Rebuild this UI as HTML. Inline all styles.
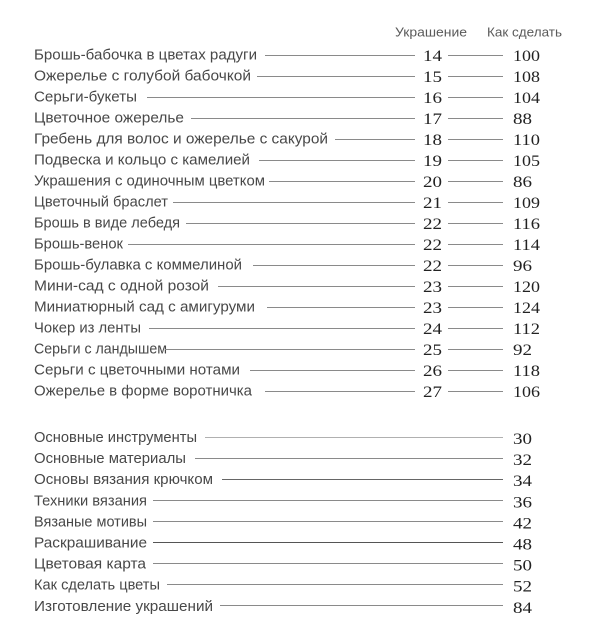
<!DOCTYPE html>
<html><head><meta charset="utf-8"><style>
html,body{margin:0;padding:0;background:#fff;}
svg{display:block;}
.l{font-family:"Liberation Sans","Noto Sans CJK SC",sans-serif;font-size:15px;fill:#484848;}
.h{font-family:"Liberation Sans","Noto Sans CJK SC",sans-serif;font-size:13px;fill:#5a5a5a;}
.n{font-family:"Liberation Serif","Noto Serif CJK SC",serif;font-size:16px;fill:#222;}
line{stroke:#8a8a8a;stroke-width:1;}
</style></head><body>
<svg width="606" height="632" viewBox="0 0 606 632" xmlns="http://www.w3.org/2000/svg">
<text class="h" x="395" y="36.5" textLength="72" lengthAdjust="spacingAndGlyphs">Украшение</text>
<text class="h" x="487" y="36.5" textLength="75" lengthAdjust="spacingAndGlyphs">Как сделать</text>

<!-- section 1 -->
<g>
<text class="l" x="34" y="59.5" textLength="223" lengthAdjust="spacingAndGlyphs">Брошь-бабочка в цветах радуги</text>
<line x1="265" y1="55.5" x2="415" y2="55.5"/><text class="n" x="423" y="61" textLength="19" lengthAdjust="spacingAndGlyphs">14</text>
<line x1="448" y1="55.5" x2="503" y2="55.5"/><text class="n" x="513" y="61" textLength="27" lengthAdjust="spacingAndGlyphs">100</text>

<text class="l" x="34" y="80.5" textLength="217" lengthAdjust="spacingAndGlyphs">Ожерелье с голубой бабочкой</text>
<line x1="257" y1="76.5" x2="415" y2="76.5"/><text class="n" x="423" y="82" textLength="19" lengthAdjust="spacingAndGlyphs">15</text>
<line x1="448" y1="76.5" x2="503" y2="76.5"/><text class="n" x="513" y="82" textLength="27" lengthAdjust="spacingAndGlyphs">108</text>

<text class="l" x="34" y="101.5" textLength="103" lengthAdjust="spacingAndGlyphs">Серьги-букеты</text>
<line x1="147" y1="97.5" x2="415" y2="97.5"/><text class="n" x="423" y="103" textLength="19" lengthAdjust="spacingAndGlyphs">16</text>
<line x1="448" y1="97.5" x2="503" y2="97.5"/><text class="n" x="513" y="103" textLength="27" lengthAdjust="spacingAndGlyphs">104</text>

<text class="l" x="34" y="122.5" textLength="150" lengthAdjust="spacingAndGlyphs">Цветочное ожерелье</text>
<line x1="191" y1="118.5" x2="415" y2="118.5"/><text class="n" x="423" y="124" textLength="19" lengthAdjust="spacingAndGlyphs">17</text>
<line x1="448" y1="118.5" x2="503" y2="118.5"/><text class="n" x="513" y="124" textLength="19" lengthAdjust="spacingAndGlyphs">88</text>

<text class="l" x="34" y="143.5" textLength="294" lengthAdjust="spacingAndGlyphs">Гребень для волос и ожерелье с сакурой</text>
<line x1="335" y1="139.5" x2="415" y2="139.5"/><text class="n" x="423" y="145" textLength="19" lengthAdjust="spacingAndGlyphs">18</text>
<line x1="448" y1="139.5" x2="503" y2="139.5"/><text class="n" x="513" y="145" textLength="27" lengthAdjust="spacingAndGlyphs">110</text>

<text class="l" x="34" y="164.5" textLength="216" lengthAdjust="spacingAndGlyphs">Подвеска и кольцо с камелией</text>
<line x1="259" y1="160.5" x2="415" y2="160.5"/><text class="n" x="423" y="166" textLength="19" lengthAdjust="spacingAndGlyphs">19</text>
<line x1="448" y1="160.5" x2="503" y2="160.5"/><text class="n" x="513" y="166" textLength="27" lengthAdjust="spacingAndGlyphs">105</text>

<text class="l" x="34" y="185.5" textLength="231" lengthAdjust="spacingAndGlyphs">Украшения с одиночным цветком</text>
<line x1="269" y1="181.5" x2="415" y2="181.5"/><text class="n" x="423" y="187" textLength="19" lengthAdjust="spacingAndGlyphs">20</text>
<line x1="448" y1="181.5" x2="503" y2="181.5"/><text class="n" x="513" y="187" textLength="19" lengthAdjust="spacingAndGlyphs">86</text>

<text class="l" x="34" y="206.5" textLength="134" lengthAdjust="spacingAndGlyphs">Цветочный браслет</text>
<line x1="173" y1="202.5" x2="415" y2="202.5"/><text class="n" x="423" y="208" textLength="19" lengthAdjust="spacingAndGlyphs">21</text>
<line x1="448" y1="202.5" x2="503" y2="202.5"/><text class="n" x="513" y="208" textLength="27" lengthAdjust="spacingAndGlyphs">109</text>

<text class="l" x="34" y="227.5" textLength="146" lengthAdjust="spacingAndGlyphs">Брошь в виде лебедя</text>
<line x1="186" y1="223.5" x2="415" y2="223.5"/><text class="n" x="423" y="229" textLength="19" lengthAdjust="spacingAndGlyphs">22</text>
<line x1="448" y1="223.5" x2="503" y2="223.5"/><text class="n" x="513" y="229" textLength="27" lengthAdjust="spacingAndGlyphs">116</text>

<text class="l" x="34" y="248.5" textLength="89" lengthAdjust="spacingAndGlyphs">Брошь-венок</text>
<line x1="128" y1="244.5" x2="415" y2="244.5"/><text class="n" x="423" y="250" textLength="19" lengthAdjust="spacingAndGlyphs">22</text>
<line x1="448" y1="244.5" x2="503" y2="244.5"/><text class="n" x="513" y="250" textLength="27" lengthAdjust="spacingAndGlyphs">114</text>

<text class="l" x="34" y="269.5" textLength="208" lengthAdjust="spacingAndGlyphs">Брошь-булавка с коммелиной</text>
<line x1="253" y1="265.5" x2="415" y2="265.5"/><text class="n" x="423" y="271" textLength="19" lengthAdjust="spacingAndGlyphs">22</text>
<line x1="448" y1="265.5" x2="503" y2="265.5"/><text class="n" x="513" y="271" textLength="19" lengthAdjust="spacingAndGlyphs">96</text>

<text class="l" x="34" y="290.5" textLength="175" lengthAdjust="spacingAndGlyphs">Мини-сад с одной розой</text>
<line x1="218" y1="286.5" x2="415" y2="286.5"/><text class="n" x="423" y="292" textLength="19" lengthAdjust="spacingAndGlyphs">23</text>
<line x1="448" y1="286.5" x2="503" y2="286.5"/><text class="n" x="513" y="292" textLength="27" lengthAdjust="spacingAndGlyphs">120</text>

<text class="l" x="34" y="311.5" textLength="221" lengthAdjust="spacingAndGlyphs">Миниатюрный сад с амигуруми</text>
<line x1="267" y1="307.5" x2="415" y2="307.5"/><text class="n" x="423" y="313" textLength="19" lengthAdjust="spacingAndGlyphs">23</text>
<line x1="448" y1="307.5" x2="503" y2="307.5"/><text class="n" x="513" y="313" textLength="27" lengthAdjust="spacingAndGlyphs">124</text>

<text class="l" x="34" y="332.5" textLength="107" lengthAdjust="spacingAndGlyphs">Чокер из ленты</text>
<line x1="149" y1="328.5" x2="415" y2="328.5"/><text class="n" x="423" y="334" textLength="19" lengthAdjust="spacingAndGlyphs">24</text>
<line x1="448" y1="328.5" x2="503" y2="328.5"/><text class="n" x="513" y="334" textLength="27" lengthAdjust="spacingAndGlyphs">112</text>

<text class="l" x="34" y="353.5" textLength="133" lengthAdjust="spacingAndGlyphs">Серьги с ландышем</text>
<line x1="165" y1="349.5" x2="415" y2="349.5"/><text class="n" x="423" y="355" textLength="19" lengthAdjust="spacingAndGlyphs">25</text>
<line x1="448" y1="349.5" x2="503" y2="349.5"/><text class="n" x="513" y="355" textLength="19" lengthAdjust="spacingAndGlyphs">92</text>

<text class="l" x="34" y="374.5" textLength="206" lengthAdjust="spacingAndGlyphs">Серьги с цветочными нотами</text>
<line x1="250" y1="370.5" x2="415" y2="370.5"/><text class="n" x="423" y="376" textLength="19" lengthAdjust="spacingAndGlyphs">26</text>
<line x1="448" y1="370.5" x2="503" y2="370.5"/><text class="n" x="513" y="376" textLength="27" lengthAdjust="spacingAndGlyphs">118</text>

<text class="l" x="34" y="395.5" textLength="218" lengthAdjust="spacingAndGlyphs">Ожерелье в форме воротничка</text>
<line x1="265" y1="391.5" x2="415" y2="391.5"/><text class="n" x="423" y="397" textLength="19" lengthAdjust="spacingAndGlyphs">27</text>
<line x1="448" y1="391.5" x2="503" y2="391.5"/><text class="n" x="513" y="397" textLength="27" lengthAdjust="spacingAndGlyphs">106</text>
</g>

<!-- section 2 -->
<g>
<text class="l" x="34" y="442" textLength="163" lengthAdjust="spacingAndGlyphs">Основные инструменты</text>
<line x1="205" y1="437.5" x2="503" y2="437.5" style="stroke:#b0b0b0"/><text class="n" x="513" y="444" textLength="19" lengthAdjust="spacingAndGlyphs">30</text>

<text class="l" x="34" y="463.1" textLength="152" lengthAdjust="spacingAndGlyphs">Основные материалы</text>
<line x1="195" y1="458.5" x2="503" y2="458.5"/><text class="n" x="513" y="465.1" textLength="19" lengthAdjust="spacingAndGlyphs">32</text>

<text class="l" x="34" y="484.2" textLength="179" lengthAdjust="spacingAndGlyphs">Основы вязания крючком</text>
<line x1="222" y1="479.5" x2="503" y2="479.5" style="stroke:#666"/><text class="n" x="513" y="486.2" textLength="19" lengthAdjust="spacingAndGlyphs">34</text>

<text class="l" x="34" y="505.3" textLength="113" lengthAdjust="spacingAndGlyphs">Техники вязания</text>
<line x1="153" y1="500.5" x2="503" y2="500.5"/><text class="n" x="513" y="507.3" textLength="19" lengthAdjust="spacingAndGlyphs">36</text>

<text class="l" x="34" y="526.4" textLength="113" lengthAdjust="spacingAndGlyphs">Вязаные мотивы</text>
<line x1="153" y1="521.5" x2="503" y2="521.5"/><text class="n" x="513" y="528.4" textLength="19" lengthAdjust="spacingAndGlyphs">42</text>

<text class="l" x="34" y="547.5" textLength="113" lengthAdjust="spacingAndGlyphs">Раскрашивание</text>
<line x1="153" y1="542.5" x2="503" y2="542.5" style="stroke:#555"/><text class="n" x="513" y="549.5" textLength="19" lengthAdjust="spacingAndGlyphs">48</text>

<text class="l" x="34" y="568.6" textLength="112" lengthAdjust="spacingAndGlyphs">Цветовая карта</text>
<line x1="153" y1="563.5" x2="503" y2="563.5"/><text class="n" x="513" y="570.6" textLength="19" lengthAdjust="spacingAndGlyphs">50</text>

<text class="l" x="34" y="589.7" textLength="126" lengthAdjust="spacingAndGlyphs">Как сделать цветы</text>
<line x1="167" y1="584.5" x2="503" y2="584.5"/><text class="n" x="513" y="591.7" textLength="19" lengthAdjust="spacingAndGlyphs">52</text>

<text class="l" x="34" y="610.8" textLength="179" lengthAdjust="spacingAndGlyphs">Изготовление украшений</text>
<line x1="220" y1="605.5" x2="503" y2="605.5"/><text class="n" x="513" y="612.8" textLength="19" lengthAdjust="spacingAndGlyphs">84</text>
</g>
</svg>
</body></html>
